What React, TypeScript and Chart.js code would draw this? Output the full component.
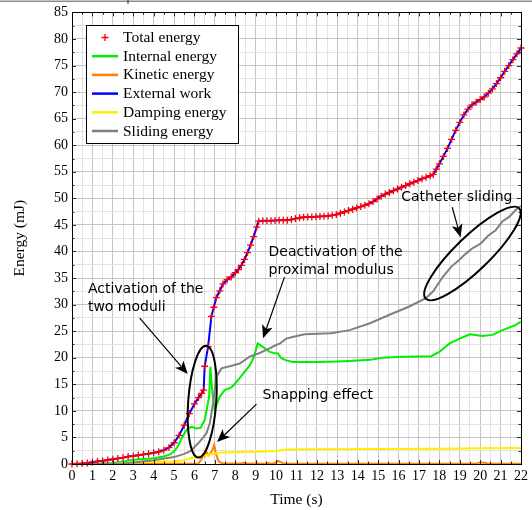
import React, { useEffect, useRef } from "react";
import { Chart, registerables } from "chart.js";

Chart.register(...registerables);

// ---------- data ----------
const totalTime = [0, 0.25, 0.5, 0.75, 1, 1.25, 1.5, 1.75, 2, 2.25, 2.5, 2.75, 3, 3.25, 3.5, 3.75, 4, 4.25, 4.5, 4.75, 5, 5.25, 5.5, 5.75, 6, 6.2, 6.35, 6.45, 6.5, 6.67, 6.83, 6.95, 7.07, 7.24, 7.4, 7.6, 7.8, 8, 8.15, 8.3, 8.45, 8.6, 8.75, 8.9, 9.05, 9.15, 9.35, 9.55, 9.75, 9.95, 10.15, 10.35, 10.55, 10.75, 10.95, 11.15, 11.35, 11.55, 11.75, 11.95, 12.15, 12.35, 12.55, 12.75, 12.95, 13.15, 13.35, 13.55, 13.75, 13.95, 14.15, 14.35, 14.55, 14.75, 14.95, 15.15, 15.35, 15.55, 15.75, 15.95, 16.15, 16.35, 16.55, 16.75, 16.95, 17.15, 17.35, 17.55, 17.7, 17.85, 18.0, 18.2, 18.4, 18.6, 18.8, 19.0, 19.2, 19.4, 19.6, 19.8, 20.0, 20.2, 20.4, 20.6, 20.8, 21.0, 21.2, 21.4, 21.6, 21.8, 22.0];
const totalEnergy = [0, 0.05, 0.1, 0.2, 0.35, 0.5, 0.6, 0.75, 0.9, 1.05, 1.2, 1.4, 1.5, 1.65, 1.8, 1.95, 2.1, 2.3, 2.6, 3.1, 4.0, 5.4, 7.3, 9.5, 11.3, 12.5, 13.3, 13.9, 18.4, 22.1, 27.8, 29.5, 31.3, 32.6, 33.9, 34.7, 35.2, 36.0, 36.6, 37.4, 38.5, 39.8, 41.2, 42.8, 44.6, 45.7, 45.8, 45.8, 45.8, 45.85, 45.9, 45.9, 45.9, 46.0, 46.2, 46.35, 46.45, 46.5, 46.5, 46.55, 46.6, 46.65, 46.7, 46.8, 46.95, 47.2, 47.45, 47.7, 47.95, 48.2, 48.45, 48.7, 49.0, 49.4, 49.9, 50.4, 50.8, 51.1, 51.45, 51.75, 52.1, 52.4, 52.75, 53.05, 53.35, 53.7, 53.95, 54.25, 54.5, 55.5, 56.5, 57.9, 59.4, 61.1, 62.8, 64.3, 65.7, 66.8, 67.6, 68.1, 68.6, 69.1, 69.8, 70.6, 71.6, 72.7, 73.9, 75.0, 76.1, 77.2, 78.3];

const internalTime = [0, 1, 2, 2.5, 3, 3.5, 4, 4.5, 4.8, 5.0, 5.2, 5.4, 5.6, 5.85, 6.1, 6.3, 6.5, 6.6, 6.72, 6.78, 6.88, 6.99, 7.1, 7.24, 7.48, 7.81, 8.0, 8.2, 8.45, 8.7, 8.9, 9.1, 9.4, 9.68, 9.9, 10.09, 10.25, 10.5, 10.82, 11.5, 12, 13, 13.6, 14.6, 15.2, 16.2, 17.6, 18.0, 18.5, 19.0, 19.5, 20.1, 20.6, 21.1, 21.7, 22];
const internalEnergy = [0, 0.05, 0.2, 0.45, 0.8, 0.95, 1.1, 1.4, 1.8, 2.4, 3.4, 5.0, 6.4, 7.0, 6.7, 6.8, 8.3, 10.2, 12.7, 18.3, 13.3, 10.2, 11.3, 12.7, 13.9, 14.4, 15.2, 16.1, 17.3, 18.5, 20.0, 22.7, 21.9, 21.1, 20.9, 20.8, 19.9, 19.5, 19.2, 19.2, 19.2, 19.3, 19.4, 19.6, 20.0, 20.2, 20.3, 21.1, 22.7, 23.6, 24.4, 24.1, 24.3, 25.2, 26.1, 26.8];

const kineticTime = [0, 2, 4, 6.2, 6.35, 6.42, 6.5, 6.59, 6.68, 6.75, 6.85, 6.97, 7.05, 7.15, 7.25, 7.4, 8.3, 8.45, 8.6, 8.9, 9.05, 9.2, 9.45, 9.6, 9.75, 9.95, 10.1, 10.25, 10.4, 12, 15, 19.8, 20.0, 20.2, 20.4, 22];
const kineticEnergy = [0, 0.02, 0.05, 0.1, 1.0, 1.7, 1.4, 2.3, 1.6, 1.9, 2.4, 3.6, 2.0, 0.8, 0.3, 0.1, 0.1, 0.25, 0.05, 0.05, 0.2, 0.05, 0.05, 0.2, 0.05, 0.2, 0.6, 0.3, 0.05, 0.05, 0.05, 0.05, 0.3, 0.25, 0.05, 0.05];

const dampingTime = [0, 2.2, 2.5, 3, 4, 5, 5.5, 5.8, 6.2, 6.5, 6.75, 7.0, 7.3, 8, 9, 10, 10.3, 10.6, 12, 15, 18, 20, 22];
const dampingEnergy = [0, 0.1, 0.2, 0.3, 0.4, 0.5, 0.7, 1.1, 1.4, 1.6, 1.8, 2.0, 2.15, 2.2, 2.3, 2.45, 2.65, 2.75, 2.78, 2.82, 2.88, 2.95, 3.0];

const slidingTime = [0, 2.5, 3, 4, 5, 5.5, 5.8, 6.0, 6.26, 6.59, 6.75, 6.91, 7.07, 7.32, 7.73, 8.22, 8.7, 9.2, 9.7, 10.0, 10.2, 10.5, 10.8, 11.4, 12.7, 13.6, 14.6, 15.5, 16.5, 17.34, 17.7, 18.16, 18.6, 18.97, 19.3, 19.62, 20.03, 20.4, 20.76, 21.1, 21.42, 21.74, 22];
const slidingEnergy = [0, 0.1, 0.3, 0.7, 1.3, 1.9, 2.4, 3.2, 4.2, 5.8, 7.6, 11.4, 16.4, 18.0, 18.4, 18.9, 20.2, 20.9, 21.8, 22.4, 22.7, 23.6, 23.9, 24.4, 24.6, 25.2, 26.5, 28.0, 29.6, 31.2, 32.5, 35.2, 37.2, 38.4, 39.6, 40.6, 41.5, 43.0, 44.0, 45.7, 46.5, 47.8, 48.6];

const legendLabels = ["Total energy", "Internal energy", "Kinetic energy", "External work", "Damping energy", "Sliding energy"];
const seriesColors = ["#ff0000", "#00ee00", "#ff8000", "#0000ff", "#ffee00", "#808080"];

// annotations (data coordinates)
const noteTexts = [
  ["Activation of the", "two moduli"],
  ["Deactivation of the", "proximal modulus"],
  ["Snapping effect"],
  ["Catheter sliding"],
];
const noteAnchors = [[0.78, 32.9], [9.63, 39.9], [9.34, 13.0], [16.13, 50.2]];
const arrowFrom = [[3.32, 27.46], [10.41, 35.17], [9.04, 11.28], [18.63, 48.33]];
const arrowTo = [[5.67, 16.92], [9.36, 23.69], [7.11, 4.14], [19.04, 42.69]];
const ellipseCenters = [[6.38, 11.72], [19.62, 39.62]];
const ellipseRadii = [[56, 14], [65, 17]];
const ellipseAngles = [1.6415, -0.768];

const zip = (xs: number[], ys: number[]) => xs.map((x, i) => ({ x, y: ys[i] }));

function drawArrow(ctx: CanvasRenderingContext2D, x1: number, y1: number, x2: number, y2: number) {
  const ang = Math.atan2(y2 - y1, x2 - x1);
  const L = 13, W = 5.5;
  const c = Math.cos(ang), s = Math.sin(ang);
  const bx = x2 - L * c, by = y2 - L * s;
  const ix = x2 - L * 0.75 * c, iy = y2 - L * 0.75 * s;
  ctx.beginPath();
  ctx.moveTo(x1, y1);
  ctx.lineTo(ix, iy);
  ctx.stroke();
  ctx.beginPath();
  ctx.moveTo(x2, y2);
  ctx.lineTo(bx + W * s, by - W * c);
  ctx.lineTo(ix, iy);
  ctx.lineTo(bx - W * s, by + W * c);
  ctx.closePath();
  ctx.fill();
}

const overlay = {
  id: "overlay",
  beforeDraw(chart: any) {
    const ctx = chart.ctx;
    ctx.save();
    ctx.fillStyle = "#ffffff";
    ctx.fillRect(0, 0, chart.width, chart.height);
    ctx.fillStyle = "#8c8c8c";
    ctx.fillRect(0, 0.5, chart.width, 1.5);
    ctx.fillStyle = "#333";
    ctx.fillRect(127.5, 0, 1, 4);
    ctx.restore();
  },
  afterDatasetsDraw(chart: any) {
    const ctx: CanvasRenderingContext2D = chart.ctx;
    const a = chart.chartArea;
    const xs = chart.scales.x;
    const ys = chart.scales.y;
    ctx.save();
    // inward ticks
    ctx.strokeStyle = "#000";
    ctx.lineWidth = 0.8;
    ctx.beginPath();
    xs.ticks.forEach((t: any) => {
      const p = Math.round(xs.getPixelForValue(t.value)) + 0.5;
      const len = Number.isInteger(t.value) ? 4 : 2.5;
      ctx.moveTo(p, a.bottom); ctx.lineTo(p, a.bottom - len);
      ctx.moveTo(p, a.top); ctx.lineTo(p, a.top + len);
    });
    ys.ticks.forEach((t: any) => {
      const p = Math.round(ys.getPixelForValue(t.value)) + 0.5;
      const len = t.value % 5 === 0 ? 4 : 2.5;
      ctx.moveTo(a.left, p); ctx.lineTo(a.left + len, p);
      ctx.moveTo(a.right, p); ctx.lineTo(a.right - len, p);
    });
    ctx.stroke();
    // frame
    ctx.lineWidth = 1;
    ctx.strokeRect(Math.round(a.left) + 0.5, Math.round(a.top) + 0.5, Math.round(a.right - a.left), Math.round(a.bottom - a.top));

    // ellipses
    ctx.lineWidth = 2;
    ctx.strokeStyle = "#000";
    ellipseCenters.forEach((c, i) => {
      ctx.beginPath();
      ctx.ellipse(xs.getPixelForValue(c[0]), ys.getPixelForValue(c[1]), ellipseRadii[i][0], ellipseRadii[i][1], ellipseAngles[i], 0, Math.PI * 2);
      ctx.stroke();
    });
    // arrows
    ctx.lineWidth = 1.2;
    ctx.fillStyle = "#000";
    arrowFrom.forEach((f, i) => {
      const t = arrowTo[i];
      drawArrow(ctx, xs.getPixelForValue(f[0]), ys.getPixelForValue(f[1]), xs.getPixelForValue(t[0]), ys.getPixelForValue(t[1]));
    });
    // texts
    ctx.font = "14px 'DejaVu Sans'";
    ctx.textAlign = "left";
    ctx.textBaseline = "middle";
    ctx.fillStyle = "#000";
    noteTexts.forEach((lines, i) => {
      const x = xs.getPixelForValue(noteAnchors[i][0]);
      const y = ys.getPixelForValue(noteAnchors[i][1]);
      lines.forEach((ln, j) => ctx.fillText(ln, x, y + j * 18));
    });

    // legend
    const lx = 86.5, ly = 25.5, lw = 152, lh = 118;
    ctx.fillStyle = "#fff";
    ctx.fillRect(lx, ly, lw, lh);
    ctx.lineWidth = 1;
    ctx.strokeStyle = "#000";
    ctx.strokeRect(lx, ly, lw, lh);
    ctx.font = "15.5px 'Liberation Serif'";
    legendLabels.forEach((lab, i) => {
      const cy = 37.5 + i * 18.7;
      if (i === 0) {
        ctx.strokeStyle = seriesColors[0];
        ctx.lineWidth = 1.3;
        ctx.beginPath();
        ctx.moveTo(105 - 3.5, cy); ctx.lineTo(105 + 3.5, cy);
        ctx.moveTo(105, cy - 3.5); ctx.lineTo(105, cy + 3.5);
        ctx.stroke();
      } else {
        ctx.strokeStyle = seriesColors[i];
        ctx.lineWidth = 2.5;
        ctx.beginPath();
        ctx.moveTo(92, cy); ctx.lineTo(118, cy);
        ctx.stroke();
      }
      ctx.fillStyle = "#000";
      ctx.fillText(lab, 123, cy + 0.5);
    });
    ctx.restore();
  },
};

export default function App() {
  const ref = useRef<HTMLCanvasElement>(null);
  useEffect(() => {
    const lineDs = (label: string, data: any[], color: string, order: number) => ({
      label,
      data,
      borderColor: color,
      backgroundColor: color,
      borderWidth: 2,
      pointRadius: 0,
      tension: 0,
      fill: false,
      clip: false as any,
      order,
    });
    const chart = new Chart(ref.current!, {
      type: "line",
      data: {
        datasets: [
          {
            label: legendLabels[0],
            data: zip(totalTime, totalEnergy),
            borderColor: seriesColors[0],
            backgroundColor: seriesColors[0],
            showLine: false,
            pointStyle: "cross",
            pointRadius: 3.5,
            pointBorderWidth: 1.3,
            clip: false as any,
            order: 0,
          },
          lineDs(legendLabels[1], zip(internalTime, internalEnergy), seriesColors[1], 6),
          lineDs(legendLabels[2], zip(kineticTime, kineticEnergy), seriesColors[2], 4),
          lineDs(legendLabels[3], zip(totalTime, totalEnergy), seriesColors[3], 1),
          lineDs(legendLabels[4], zip(dampingTime, dampingEnergy), seriesColors[4], 3),
          lineDs(legendLabels[5], zip(slidingTime, slidingEnergy), seriesColors[5], 2),
        ] as any,
      },
      options: {
        responsive: false,
        animation: false,
        devicePixelRatio: 1,
        layout: { padding: { left: 0, right: 10, top: 12, bottom: 0 } },
        plugins: { legend: { display: false }, tooltip: { enabled: false } },
        scales: {
          x: {
            type: "linear",
            min: 0,
            max: 22,
            afterFit: (s: any) => { s.height = 46; },
            ticks: {
              stepSize: 0.5,
              autoSkip: false,
              maxRotation: 0,
              padding: 4,
              color: "#000",
              font: { family: "'Liberation Serif'", size: 14 },
              callback: (v: any) => (Number.isInteger(v) ? String(v) : ""),
            },
            grid: {
              drawTicks: false,
              color: (c: any) => (c.tick && Number.isInteger(c.tick.value) ? "#c6c6c6" : "#e3e3e3"),
              lineWidth: 1,
            },
            border: { display: false },
            title: {
              display: true,
              text: "Time (s)",
              color: "#000",
              font: { family: "'Liberation Serif'", size: 15.5 },
              padding: { top: 0, bottom: 1 },
            },
          },
          y: {
            type: "linear",
            min: 0,
            max: 85,
            afterFit: (s: any) => { s.width = 72; },
            ticks: {
              stepSize: 2.5,
              autoSkip: false,
              padding: 4,
              color: "#000",
              font: { family: "'Liberation Serif'", size: 14 },
              callback: (v: any) => (v % 5 === 0 ? String(v) : ""),
            },
            grid: {
              drawTicks: false,
              color: (c: any) => (c.tick && c.tick.value % 5 === 0 ? "#c6c6c6" : "#e3e3e3"),
              lineWidth: 1,
            },
            border: { display: false },
            title: {
              display: true,
              text: "Energy (mJ)",
              color: "#000",
              font: { family: "'Liberation Serif'", size: 15.5 },
              padding: { top: 11, bottom: 0 },
            },
          },
        },
      },
      plugins: [overlay],
    } as any);
    return () => chart.destroy();
  }, []);
  return (
    <div style={{ position: "fixed", left: 0, top: 0, width: 532, height: 510, background: "#fff" }}>
      <canvas ref={ref} width={532} height={510} style={{ display: "block", width: 532, height: 510 }} />
    </div>
  );
}
